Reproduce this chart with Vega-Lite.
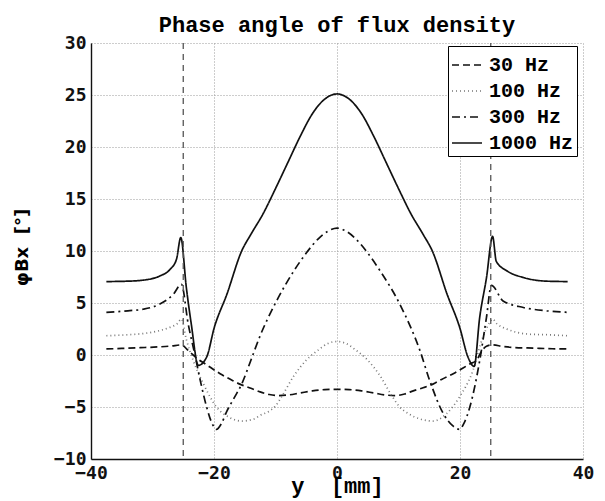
{
  "$schema": "https://vega.github.io/schema/vega-lite/v6.json",
  "width": 492,
  "height": 416,
  "autosize": {"type": "none"},
  "padding": {"left": 91, "top": 43, "right": 22, "bottom": 42},
  "background": "white",
  "title": {"text": "Phase angle of flux density", "font": "Liberation Mono", "fontSize": 22, "fontWeight": "bold", "color": "black", "anchor": "middle", "offset": -3},
  "config": {
    "view": {"stroke": null},
    "axis": {
      "grid": true, "gridDash": [1, 2], "gridColor": "#9a9a9a", "gridWidth": 1,
      "domain": true, "domainColor": "#111", "domainWidth": 1.4,
      "ticks": false, "labelPadding": 5,
      "labelFont": "DejaVu Sans Mono", "labelFontWeight": "bold", "labelFontSize": 18, "labelColor": "#111",
      "labelFlush": false, "labelOverlap": false,
      "titleColor": "black"
    }
  },
  "layer": [
    {
      "data": {"values": [
        {"f": "30 Hz", "pos": -37.5, "v": 0.58}, {"f": "30 Hz", "pos": -35, "v": 0.63}, {"f": "30 Hz", "pos": -32, "v": 0.7}, {"f": "30 Hz", "pos": -29, "v": 0.78}, {"f": "30 Hz", "pos": -27, "v": 0.86}, {"f": "30 Hz", "pos": -25.3, "v": 0.97}, {"f": "30 Hz", "pos": -24.3, "v": 0.5}, {"f": "30 Hz", "pos": -23.4, "v": 0.0}, {"f": "30 Hz", "pos": -22.5, "v": -0.45}, {"f": "30 Hz", "pos": -21.7, "v": -0.75}, {"f": "30 Hz", "pos": -19, "v": -1.8}, {"f": "30 Hz", "pos": -17, "v": -2.45}, {"f": "30 Hz", "pos": -15.8, "v": -2.8}, {"f": "30 Hz", "pos": -14, "v": -3.2}, {"f": "30 Hz", "pos": -12.5, "v": -3.55}, {"f": "30 Hz", "pos": -11, "v": -3.8}, {"f": "30 Hz", "pos": -9.5, "v": -3.9}, {"f": "30 Hz", "pos": -8, "v": -3.85}, {"f": "30 Hz", "pos": -6, "v": -3.65}, {"f": "30 Hz", "pos": -4, "v": -3.45}, {"f": "30 Hz", "pos": -2, "v": -3.33}, {"f": "30 Hz", "pos": 0, "v": -3.3}, {"f": "30 Hz", "pos": 2, "v": -3.33}, {"f": "30 Hz", "pos": 4, "v": -3.45}, {"f": "30 Hz", "pos": 6, "v": -3.65}, {"f": "30 Hz", "pos": 8, "v": -3.85}, {"f": "30 Hz", "pos": 9.5, "v": -3.9}, {"f": "30 Hz", "pos": 11, "v": -3.75}, {"f": "30 Hz", "pos": 12.4, "v": -3.45}, {"f": "30 Hz", "pos": 14, "v": -3.15}, {"f": "30 Hz", "pos": 15.6, "v": -2.8}, {"f": "30 Hz", "pos": 17, "v": -2.35}, {"f": "30 Hz", "pos": 18.9, "v": -1.8}, {"f": "30 Hz", "pos": 20.5, "v": -1.25}, {"f": "30 Hz", "pos": 21.6, "v": -0.86}, {"f": "30 Hz", "pos": 22.7, "v": -0.5}, {"f": "30 Hz", "pos": 23.5, "v": 0.35}, {"f": "30 Hz", "pos": 24.3, "v": 0.85}, {"f": "30 Hz", "pos": 25.2, "v": 0.97}, {"f": "30 Hz", "pos": 27, "v": 0.82}, {"f": "30 Hz", "pos": 28.6, "v": 0.73}, {"f": "30 Hz", "pos": 32, "v": 0.66}, {"f": "30 Hz", "pos": 35, "v": 0.6}, {"f": "30 Hz", "pos": 37.5, "v": 0.58},
        {"f": "100 Hz", "pos": -37.5, "v": 1.85}, {"f": "100 Hz", "pos": -34, "v": 1.95}, {"f": "100 Hz", "pos": -31, "v": 2.1}, {"f": "100 Hz", "pos": -28.5, "v": 2.4}, {"f": "100 Hz", "pos": -27, "v": 2.7}, {"f": "100 Hz", "pos": -26, "v": 3.0}, {"f": "100 Hz", "pos": -25.3, "v": 3.45}, {"f": "100 Hz", "pos": -24.5, "v": 1.5}, {"f": "100 Hz", "pos": -23.4, "v": -0.5}, {"f": "100 Hz", "pos": -21.7, "v": -2.8}, {"f": "100 Hz", "pos": -19.6, "v": -5.0}, {"f": "100 Hz", "pos": -17.5, "v": -6.0}, {"f": "100 Hz", "pos": -15.5, "v": -6.35}, {"f": "100 Hz", "pos": -13.5, "v": -6.15}, {"f": "100 Hz", "pos": -12.5, "v": -5.8}, {"f": "100 Hz", "pos": -11, "v": -5.4}, {"f": "100 Hz", "pos": -10, "v": -4.9}, {"f": "100 Hz", "pos": -9, "v": -4.0}, {"f": "100 Hz", "pos": -7, "v": -2.0}, {"f": "100 Hz", "pos": -5, "v": -0.5}, {"f": "100 Hz", "pos": -3, "v": 0.5}, {"f": "100 Hz", "pos": -1.5, "v": 1.1}, {"f": "100 Hz", "pos": 0, "v": 1.3}, {"f": "100 Hz", "pos": 1.5, "v": 1.1}, {"f": "100 Hz", "pos": 3, "v": 0.5}, {"f": "100 Hz", "pos": 5, "v": -0.5}, {"f": "100 Hz", "pos": 7, "v": -2.0}, {"f": "100 Hz", "pos": 9, "v": -4.0}, {"f": "100 Hz", "pos": 10.2, "v": -5.0}, {"f": "100 Hz", "pos": 11.5, "v": -5.6}, {"f": "100 Hz", "pos": 13.5, "v": -6.15}, {"f": "100 Hz", "pos": 15.6, "v": -6.35}, {"f": "100 Hz", "pos": 17.8, "v": -5.65}, {"f": "100 Hz", "pos": 19.9, "v": -4.05}, {"f": "100 Hz", "pos": 22.1, "v": -1.5}, {"f": "100 Hz", "pos": 23.7, "v": 1.7}, {"f": "100 Hz", "pos": 24.8, "v": 3.1}, {"f": "100 Hz", "pos": 25.3, "v": 3.45}, {"f": "100 Hz", "pos": 26, "v": 3.0}, {"f": "100 Hz", "pos": 27.6, "v": 2.5}, {"f": "100 Hz", "pos": 31.3, "v": 2.0}, {"f": "100 Hz", "pos": 34, "v": 1.95}, {"f": "100 Hz", "pos": 37.5, "v": 1.85},
        {"f": "300 Hz", "pos": -37.5, "v": 4.09}, {"f": "300 Hz", "pos": -34, "v": 4.25}, {"f": "300 Hz", "pos": -31.5, "v": 4.4}, {"f": "300 Hz", "pos": -28.8, "v": 4.9}, {"f": "300 Hz", "pos": -26.6, "v": 5.85}, {"f": "300 Hz", "pos": -25.3, "v": 6.8}, {"f": "300 Hz", "pos": -24.2, "v": 3.0}, {"f": "300 Hz", "pos": -23.1, "v": 0.0}, {"f": "300 Hz", "pos": -22.1, "v": -2.8}, {"f": "300 Hz", "pos": -21.2, "v": -5.0}, {"f": "300 Hz", "pos": -20.3, "v": -6.6}, {"f": "300 Hz", "pos": -19.6, "v": -7.15}, {"f": "300 Hz", "pos": -18.8, "v": -6.6}, {"f": "300 Hz", "pos": -17.9, "v": -5.4}, {"f": "300 Hz", "pos": -16.7, "v": -4.1}, {"f": "300 Hz", "pos": -15.5, "v": -2.8}, {"f": "300 Hz", "pos": -14, "v": -0.5}, {"f": "300 Hz", "pos": -12.5, "v": 1.85}, {"f": "300 Hz", "pos": -10, "v": 5.0}, {"f": "300 Hz", "pos": -7, "v": 8.1}, {"f": "300 Hz", "pos": -5, "v": 9.8}, {"f": "300 Hz", "pos": -3, "v": 11.2}, {"f": "300 Hz", "pos": -1.5, "v": 11.9}, {"f": "300 Hz", "pos": 0, "v": 12.2}, {"f": "300 Hz", "pos": 1.5, "v": 11.9}, {"f": "300 Hz", "pos": 3, "v": 11.2}, {"f": "300 Hz", "pos": 5, "v": 9.8}, {"f": "300 Hz", "pos": 7, "v": 8.1}, {"f": "300 Hz", "pos": 10.2, "v": 4.9}, {"f": "300 Hz", "pos": 13.5, "v": 0.4}, {"f": "300 Hz", "pos": 15.1, "v": -2.5}, {"f": "300 Hz", "pos": 17.3, "v": -5.65}, {"f": "300 Hz", "pos": 18.8, "v": -6.8}, {"f": "300 Hz", "pos": 19.9, "v": -7.15}, {"f": "300 Hz", "pos": 20.7, "v": -6.5}, {"f": "300 Hz", "pos": 21.6, "v": -5.0}, {"f": "300 Hz", "pos": 23.2, "v": -0.55}, {"f": "300 Hz", "pos": 24.3, "v": 3.6}, {"f": "300 Hz", "pos": 25.1, "v": 6.7}, {"f": "300 Hz", "pos": 27, "v": 5.2}, {"f": "300 Hz", "pos": 30.3, "v": 4.57}, {"f": "300 Hz", "pos": 34.1, "v": 4.25}, {"f": "300 Hz", "pos": 37.5, "v": 4.1},
        {"f": "1000 Hz", "pos": -37.5, "v": 7.06}, {"f": "1000 Hz", "pos": -34, "v": 7.1}, {"f": "1000 Hz", "pos": -31.5, "v": 7.2}, {"f": "1000 Hz", "pos": -28.8, "v": 7.6}, {"f": "1000 Hz", "pos": -27.2, "v": 8.2}, {"f": "1000 Hz", "pos": -26.1, "v": 9.2}, {"f": "1000 Hz", "pos": -25.4, "v": 11.3}, {"f": "1000 Hz", "pos": -24.5, "v": 6.5}, {"f": "1000 Hz", "pos": -23.7, "v": 3.0}, {"f": "1000 Hz", "pos": -22.55, "v": -1.0}, {"f": "1000 Hz", "pos": -21.2, "v": -0.2}, {"f": "1000 Hz", "pos": -19.95, "v": 2.65}, {"f": "1000 Hz", "pos": -17.9, "v": 5.85}, {"f": "1000 Hz", "pos": -15.5, "v": 10.0}, {"f": "1000 Hz", "pos": -14, "v": 11.6}, {"f": "1000 Hz", "pos": -12, "v": 13.6}, {"f": "1000 Hz", "pos": -10, "v": 16.0}, {"f": "1000 Hz", "pos": -8, "v": 18.5}, {"f": "1000 Hz", "pos": -6, "v": 21.0}, {"f": "1000 Hz", "pos": -4, "v": 23.2}, {"f": "1000 Hz", "pos": -2, "v": 24.6}, {"f": "1000 Hz", "pos": 0, "v": 25.1}, {"f": "1000 Hz", "pos": 2, "v": 24.6}, {"f": "1000 Hz", "pos": 4, "v": 23.2}, {"f": "1000 Hz", "pos": 6, "v": 21.0}, {"f": "1000 Hz", "pos": 8, "v": 18.5}, {"f": "1000 Hz", "pos": 10, "v": 16.0}, {"f": "1000 Hz", "pos": 12, "v": 13.6}, {"f": "1000 Hz", "pos": 14, "v": 11.6}, {"f": "1000 Hz", "pos": 15.5, "v": 10.0}, {"f": "1000 Hz", "pos": 17.9, "v": 5.85}, {"f": "1000 Hz", "pos": 19.95, "v": 2.65}, {"f": "1000 Hz", "pos": 21.3, "v": -0.2}, {"f": "1000 Hz", "pos": 22.3, "v": -1.1}, {"f": "1000 Hz", "pos": 23.2, "v": 3.6}, {"f": "1000 Hz", "pos": 24.3, "v": 7.4}, {"f": "1000 Hz", "pos": 25.3, "v": 11.4}, {"f": "1000 Hz", "pos": 25.9, "v": 9.0}, {"f": "1000 Hz", "pos": 27.6, "v": 8.1}, {"f": "1000 Hz", "pos": 30.3, "v": 7.45}, {"f": "1000 Hz", "pos": 34.1, "v": 7.1}, {"f": "1000 Hz", "pos": 37.5, "v": 7.06}
      ]},
      "mark": {"type": "line", "strokeWidth": 1.7, "interpolate": "monotone"},
      "encoding": {
        "x": {"field": "pos", "type": "quantitative", "scale": {"domain": [-40, 40], "nice": false},
              "axis": {"values": [-40, -20, 0, 20, 40], "title": "y\u00a0\u00a0[mm]", "titleFont": "Liberation Mono", "titleFontSize": 22, "titleFontWeight": "bold", "titleBaseline": "alphabetic", "titleY": 33}},
        "y": {"field": "v", "type": "quantitative", "scale": {"domain": [-10, 30], "nice": false},
              "axis": {"values": [-10, -5, 0, 5, 10, 15, 20, 25, 30], "title": "φBx\u00a0\u00a0[°]", "titleFont": "DejaVu Sans", "titleFontSize": 18, "titleFontWeight": "bold", "titleBaseline": "middle", "titleX": -69, "titleY": 204}},
        "strokeDash": {"field": "f", "type": "nominal",
              "scale": {"domain": ["30 Hz", "100 Hz", "300 Hz", "1000 Hz"], "range": [[7, 4], [1, 3], [8, 4, 2, 4], [1, 0]]},
              "legend": {"title": null, "orient": "none", "legendX": 357, "legendY": 3, "strokeColor": "black", "fillColor": "white", "padding": 3, "symbolType": "stroke", "symbolSize": 900, "symbolStrokeWidth": 1.5, "labelFont": "Liberation Mono", "labelFontSize": 20, "labelFontWeight": "bold", "labelColor": "black", "labelOffset": 6, "rowPadding": 0}},
        "color": {"field": "f", "type": "nominal",
              "scale": {"domain": ["30 Hz", "100 Hz", "300 Hz", "1000 Hz"], "range": ["#111", "#777", "#111", "#111"]},
              "legend": {"title": null, "orient": "none", "legendX": 357, "legendY": 3, "strokeColor": "black", "fillColor": "white", "padding": 3, "symbolType": "stroke", "symbolSize": 900, "symbolStrokeWidth": 1.5, "labelFont": "Liberation Mono", "labelFontSize": 20, "labelFontWeight": "bold", "labelColor": "black", "labelOffset": 6, "rowPadding": 0}}
      }
    },
    {
      "data": {"values": [{"pos": -25}, {"pos": 25}]},
      "mark": {"type": "rule", "color": "#555", "strokeDash": [6, 5], "strokeWidth": 1.3},
      "encoding": {
        "x": {"field": "pos", "type": "quantitative", "scale": {"domain": [-40, 40], "nice": false}}
      }
    }
  ]
}
